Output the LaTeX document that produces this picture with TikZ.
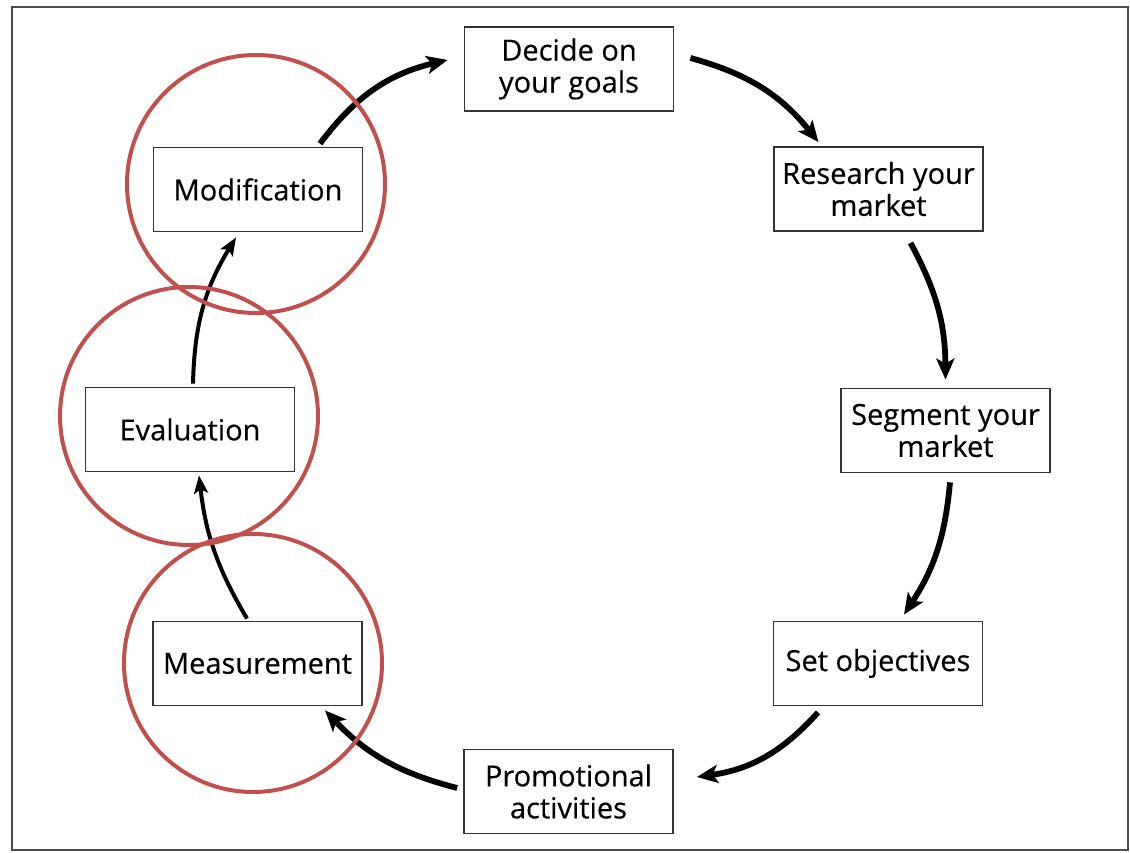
\documentclass[tikz,border=0pt]{standalone}
\usepackage{fontspec}
\setmainfont{Open Sans}[FakeBold=0.4]
\usetikzlibrary{arrows.meta,positioning}
\definecolor{ringred}{HTML}{C0504D}
\definecolor{boxline}{HTML}{333333}
\tikzset{
  stepbox/.style={draw=boxline, line width=1.8pt, minimum width=209pt, minimum height=84pt,
    inner sep=0pt, align=center, font=\fontsize{29}{32}\selectfont, text=black},
  flow/.style={line width=5.8pt, -{Stealth[length=21pt,width=18pt,inset=5pt]}},
  thinflow/.style={line width=4pt, -{Stealth[length=18pt,width=14pt,inset=4pt]}},
  ring/.style={draw=ringred, line width=4pt, circle, minimum size=258pt, inner sep=0pt}
}
\begin{document}
\begin{tikzpicture}[x=1pt,y=1pt]
\useasboundingbox (0,0) rectangle (1130,853);
\draw[draw=black!70, line width=1.8pt] (12,3) rectangle (1128,846);

\node[stepbox] (decide) at (569,784) {Decide on\\your goals};
\node[stepbox] (research) at (878.5,664) {Research your\\market};
\node[stepbox] (segment) at (945.5,422.5) {Segment your\\market};
\node[stepbox] (setobj) at (878,189.5) {Set objectives};
\node[stepbox] (promo) at (568.5,61.5) {Promotional\\activities};
\node[stepbox] (meas) at (257.5,189.5) {Measurement};
\node[stepbox] (eval) at (190,423.5) {Evaluation};
\node[stepbox] (mod) at (258,663.5) {Modification};

\draw[flow] ([xshift=62pt,yshift=3pt]mod.north) to[bend left=20] ([xshift=-16pt,yshift=9pt]decide.west);
\draw[flow] ([xshift=16pt,yshift=11pt]decide.east) to[bend left=18] ([xshift=-60pt,yshift=4pt]research.north);
\draw[flow] ([xshift=32pt,yshift=-11pt]research.south) to[bend left=14] ([yshift=8pt]segment.north);
\draw[flow] ([xshift=4.5pt,yshift=-9pt]segment.south) to[bend left=14] ([xshift=26pt,yshift=6pt]setobj.north);
\draw[flow] ([xshift=-60pt,yshift=-6pt]setobj.south) to[bend left=20] ([xshift=23pt,yshift=14.5pt]promo.east);
\draw[flow] ([xshift=-6pt,yshift=3.5pt]promo.west) to[bend left=16] ([xshift=67.5pt,yshift=-4pt]meas.south);
\draw[thinflow] ([xshift=-10.5pt,yshift=2pt]meas.north) to[bend left=12] ([xshift=9pt,yshift=-3pt]eval.south);
\draw[thinflow] ([xshift=3pt,yshift=3pt]eval.north) to[bend left=15] ([xshift=-22pt,yshift=-5pt]mod.south);

\node[ring] (ringmod) at (256,669) {};
\node[ring] (ringeval) at (189,437) {};
\node[ring] (ringmeas) at (253,190) {};
\end{tikzpicture}
\end{document}
